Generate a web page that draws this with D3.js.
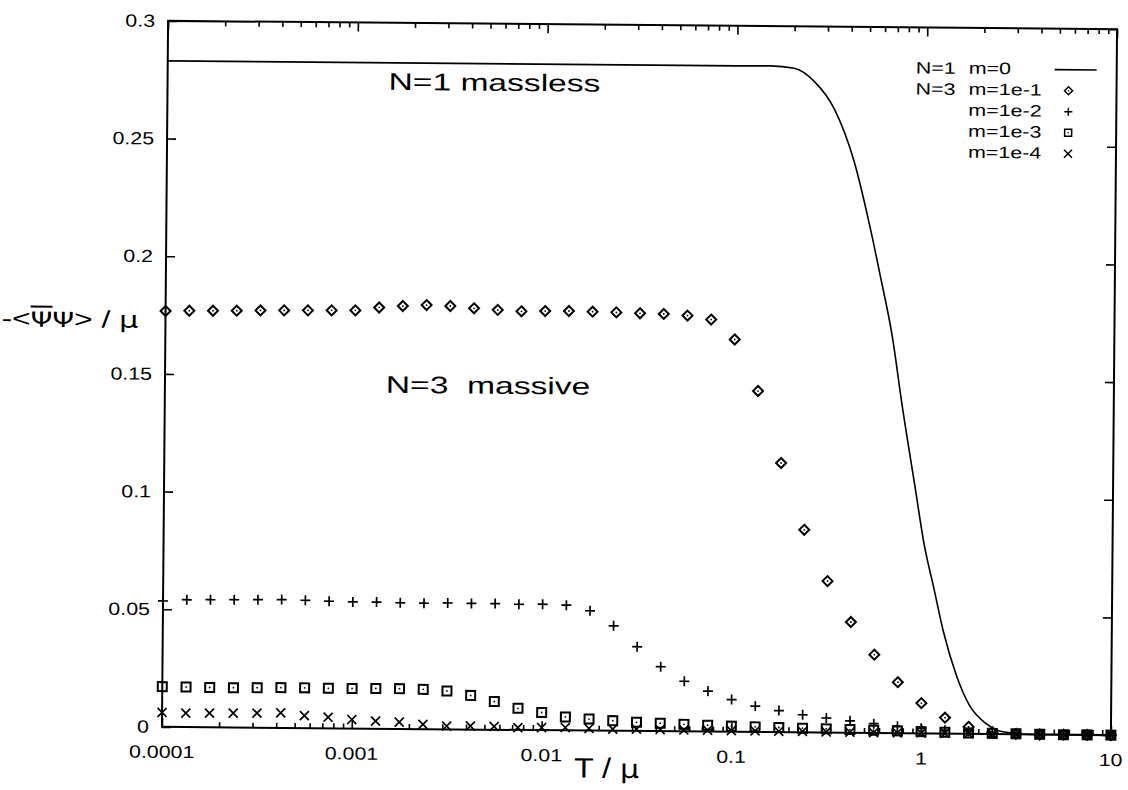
<!DOCTYPE html>
<html>
<head>
<meta charset="utf-8">
<script src="https://cdn.jsdelivr.net/npm/d3@7"></script>
<style>
  html, body { margin: 0; padding: 0; background: #fff; }
  svg { display: block; }
  text { font-family: "Liberation Sans", Arial, Helvetica, sans-serif; fill: #000; }
</style>
</head>
<body>
<svg id="chart" width="1128" height="790"></svg>
<script>
// temperatures of the sampled points, T / mu (8 per decade)
const temps = [
  1e-4, 1.334e-4, 1.778e-4, 2.371e-4, 3.162e-4, 4.217e-4, 5.623e-4, 7.499e-4,
  1e-3, 1.334e-3, 1.778e-3, 2.371e-3, 3.162e-3, 4.217e-3, 5.623e-3, 7.499e-3,
  1e-2, 1.334e-2, 1.778e-2, 2.371e-2, 3.162e-2, 4.217e-2, 5.623e-2, 7.499e-2,
  0.1, 0.1334, 0.1778, 0.2371, 0.3162, 0.4217, 0.5623, 0.7499,
  1, 1.334, 1.778, 2.371, 3.162, 4.217, 5.623, 7.499, 10
];

// N=3, m=1e-1 (diamonds)
const massive1 = [
  0.1767, 0.1769, 0.177, 0.1771, 0.1773, 0.1774, 0.1775, 0.1776,
  0.1777, 0.179, 0.1797, 0.1802, 0.1799, 0.179, 0.1784, 0.1779,
  0.1781, 0.1782, 0.178, 0.1778, 0.1775, 0.1773, 0.1767, 0.1751,
  0.1667, 0.1449, 0.1144, 0.0861, 0.0644, 0.0471, 0.0333, 0.0217,
  0.0129, 0.0068, 0.003, 0.0008, 0.0002, 0, 0, 0, 0
];

// N=3, m=1e-2 (plus)
const massive2 = [
  0.0535, 0.0541, 0.0542, 0.0543, 0.0544, 0.0545, 0.0543, 0.054,
  0.0538, 0.0538, 0.0536, 0.0535, 0.0537, 0.0536, 0.0536, 0.0534,
  0.0535, 0.0532, 0.0509, 0.0446, 0.0358, 0.0274, 0.0213, 0.0172,
  0.0137, 0.011, 0.0092, 0.0075, 0.0062, 0.0051, 0.004, 0.003,
  0.0022, 0.0015, 0.001, 0.0006, 0.0003, 0.0001, 0, 0, 0
];

// N=3, m=1e-3 (squares)
const massive3 = [
  0.0171, 0.017, 0.0169, 0.0169, 0.017, 0.0171, 0.0171, 0.017,
  0.017, 0.0171, 0.0171, 0.0169, 0.0163, 0.0145, 0.012, 0.0092,
  0.0075, 0.0057, 0.0049, 0.0043, 0.0037, 0.0034, 0.003, 0.0027,
  0.0024, 0.0022, 0.002, 0.0018, 0.0016, 0.0014, 0.0012, 0.001,
  0.0008, 0.0006, 0.0004, 0.0003, 0.0002, 0.0001, 0, 0, 0
];

// N=3, m=1e-4 (crosses)
const massive4 = [
  0.0061, 0.0059, 0.006, 0.0061, 0.0062, 0.0064, 0.0053, 0.0047,
  0.0038, 0.0032, 0.0029, 0.002, 0.0014, 0.0015, 0.0014, 0.001,
  0.0011, 0.0012, 0.0009, 0.0007, 0.0008, 0.0007, 0.0006, 0.0006,
  0.0005, 0.0005, 0.0004, 0.0004, 0.0003, 0.0003, 0.0002, 0.0002,
  0.0002, 0.0001, 0.0001, 0.0001, 0, 0, 0, 0, 0
];

// N=1, m=0 (solid curve)
const masslessT = [
  1e-4, 0.1, 0.15, 0.2, 0.256, 0.327, 0.417, 0.512, 0.578, 0.679, 0.767,
  0.902, 1.019, 1.15, 1.297, 1.524, 1.79, 2.19, 2.69, 3.9, 10
];
const masslessV = [
  0.283, 0.283, 0.2831, 0.2822, 0.2766, 0.265, 0.243, 0.2144, 0.195, 0.1677, 0.1394,
  0.1055, 0.08, 0.0617, 0.0433, 0.0249, 0.0122, 0.0045, 0.001, 0, 0
];

const xTicks = [1e-4, 1e-3, 1e-2, 0.1, 1, 10];
const xTickLabels = ['0.0001', '0.001', '0.01', '0.1', '1', '10'];
const yTicks = [0, 0.05, 0.1, 0.15, 0.2, 0.25, 0.3];
const yTickLabels = ['0', '0.05', '0.1', '0.15', '0.2', '0.25', '0.3'];

const legendRows = [
  { n: 'N=1', m: 'm=0', mark: 'line' },
  { n: 'N=3', m: 'm=1e-1', mark: 'diamond' },
  { n: '', m: 'm=1e-2', mark: 'plus' },
  { n: '', m: 'm=1e-3', mark: 'square' },
  { n: '', m: 'm=1e-4', mark: 'cross' },
];

// ---------------------------------------------------------------------------
// layout
const plot = { left: 165, right: 1114, top: 25, bottom: 731 };
const tilt = 0.5;          // the scanned page is slightly rotated
const stretch = 1.22;      // glyphs are wider than the plain font

const svg = d3.select('#chart');
const root = svg.append('g')
  .attr('transform', `rotate(${tilt}, 640, 378)`);

const x = d3.scaleLog().domain([1e-4, 10]).range([plot.left, plot.right]);
const y = d3.scaleLinear().domain([0, 0.3]).range([plot.bottom, plot.top]);

// text with a horizontal stretch
const label = (sel, str, px, py, size, anchor, sx = stretch) => sel.append('text')
  .attr('transform', `translate(${px},${py}) scale(${sx},1)`)
  .attr('text-anchor', anchor)
  .attr('font-size', size)
  .text(str);

// ---------------------------------------------------------------------------
// axes: ticks inside on all four sides
const tickLen = 9;
const minorLen = 5;

const axes = root.append('g').attr('class', 'axes');
const bottomAxis = d3.axisBottom(x).tickValues(xTicks).tickSize(-tickLen).tickFormat('');
const topAxis = d3.axisTop(x).tickValues(xTicks).tickSize(-tickLen).tickFormat('');
const leftAxis = d3.axisLeft(y).tickValues(yTicks).tickSize(-tickLen).tickFormat('');
const rightAxis = d3.axisRight(y).tickValues(yTicks).tickSize(-tickLen).tickFormat('');

const minorTicks = [];
xTicks.slice(0, -1).forEach((d) => {
  for (let i = 2; i <= 9; i += 1) minorTicks.push(d * i);
});
const bottomMinor = d3.axisBottom(x).tickValues(minorTicks).tickSize(-minorLen).tickFormat('');
const topMinor = d3.axisTop(x).tickValues(minorTicks).tickSize(-minorLen).tickFormat('');

axes.append('g').attr('transform', `translate(0,${plot.bottom})`).call(bottomAxis);
axes.append('g').attr('transform', `translate(0,${plot.top})`).call(topAxis);
axes.append('g').attr('transform', `translate(0,${plot.bottom})`).call(bottomMinor);
axes.append('g').attr('transform', `translate(0,${plot.top})`).call(topMinor);
axes.append('g').attr('transform', `translate(${plot.left},0)`).call(leftAxis);
axes.append('g').attr('transform', `translate(${plot.right},0)`).call(rightAxis);

axes.selectAll('.domain').remove();
axes.selectAll('.tick line').attr('stroke', '#000').attr('stroke-width', 1.6);

root.append('rect')
  .attr('x', plot.left)
  .attr('y', plot.top)
  .attr('width', plot.right - plot.left)
  .attr('height', plot.bottom - plot.top)
  .attr('fill', 'none')
  .attr('stroke', '#000')
  .attr('stroke-width', 2);

// tick labels
xTicks.forEach((d, i) => label(root, xTickLabels[i], x(d), plot.bottom + 31, 17.5, 'middle'));
yTicks.forEach((d, i) => label(root, yTickLabels[i], plot.left - 13, y(d) + 6, 17.5, 'end'));

// axis titles
const xTitle = root.append('text')
  .attr('transform', `translate(${(plot.left + plot.right) / 2 - 62},${plot.bottom + 47}) scale(1.15,1)`)
  .attr('font-size', 28);
xTitle.append('tspan').text('T / ');
xTitle.append('tspan').attr('font-family', 'DejaVu Sans').attr('font-size', 26).text('μ');

const yTitle = root.append('text')
  .attr('transform', `translate(1,${y(0.178) + 20}) scale(1.32,1)`)
  .attr('font-size', 24);
yTitle.append('tspan').text('-<');
const psiBar = yTitle.append('tspan').attr('font-family', 'DejaVu Sans').attr('font-size', 21).text('Ψ');
yTitle.append('tspan').attr('font-family', 'DejaVu Sans').attr('font-size', 21).text('Ψ');
yTitle.append('tspan').text('> / ');
yTitle.append('tspan').attr('font-family', 'DejaVu Sans').attr('font-size', 23).text('μ');
psiBar.attr('text-decoration', 'overline');

// annotations (the second one has a double space)
label(root, 'N=1 massless', 386, 92, 24, 'start', 1.4);
label(root, 'N=3\u00a0 massive', 386, 395, 24, 'start', 1.4);

// ---------------------------------------------------------------------------
// the N=1 curve
const curve = d3.line()
  .x((d) => x(d[0]))
  .y((d) => y(d[1]))
  .curve(d3.curveMonotoneX);

root.append('path')
  .datum(masslessT.map((t, i) => [t, masslessV[i]]))
  .attr('d', curve)
  .attr('fill', 'none')
  .attr('stroke', '#000')
  .attr('stroke-width', 1.6);

// point markers
const markerPath = {
  diamond: 'M0,-5L5,0L0,5L-5,0Z',
  square: 'M-4.5,-4.5H4.5V4.5H-4.5Z',
  plus: 'M-5,0H5M0,-5V5',
  cross: 'M-4.5,-4.5L4.5,4.5M-4.5,4.5L4.5,-4.5',
};

const drawMarks = (values, kind) => {
  const g = root.append('g').attr('class', `series-${kind}`);
  const pts = g.selectAll('g').data(temps.map((t, i) => [t, values[i]])).enter()
    .append('g')
    .attr('transform', (d) => `translate(${x(d[0])},${y(d[1])})`);
  pts.append('path')
    .attr('d', markerPath[kind])
    .attr('fill', 'none')
    .attr('stroke', '#000')
    .attr('stroke-width', kind === 'diamond' || kind === 'square' ? 2 : 1.7);
  if (kind === 'diamond' || kind === 'square') {
    pts.append('circle').attr('r', 0.9).attr('fill', '#000');
  }
};

drawMarks(massive1, 'diamond');
drawMarks(massive2, 'plus');
drawMarks(massive3, 'square');
drawMarks(massive4, 'cross');

// ---------------------------------------------------------------------------
// legend
const legend = root.append('g').attr('class', 'legend');
legendRows.forEach((row, i) => {
  const by = 71 + i * 21;
  if (row.n) label(legend, row.n, 913, by, 16.5, 'start', 1.3);
  label(legend, row.m, 966, by, 16.5, 'start', 1.3);
  const cx = 1066;
  const cy = by - 5;
  if (row.mark === 'line') {
    legend.append('line')
      .attr('x1', 1052).attr('x2', 1094)
      .attr('y1', cy).attr('y2', cy)
      .attr('stroke', '#000').attr('stroke-width', 1.6);
  } else {
    const small = { diamond: 'M0,-4L4,0L0,4L-4,0Z', square: 'M-3.5,-3.5H3.5V3.5H-3.5Z', plus: 'M-4,0H4M0,-4V4', cross: 'M-4,-4L4,4M-4,4L4,-4' };
    legend.append('path')
      .attr('transform', `translate(${cx},${cy})`)
      .attr('d', small[row.mark])
      .attr('fill', 'none')
      .attr('stroke', '#000')
      .attr('stroke-width', 1.5);
    if (row.mark === 'diamond' || row.mark === 'square') {
      legend.append('circle').attr('cx', cx).attr('cy', cy).attr('r', 0.8).attr('fill', '#000');
    }
  }
});
</script>
</body>
</html>
